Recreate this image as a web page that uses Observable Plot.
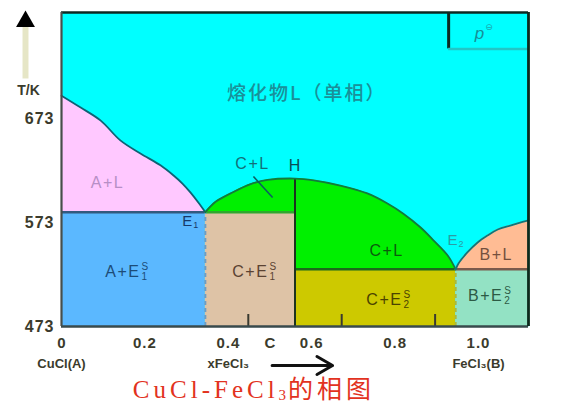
<!DOCTYPE html>
<html>
<head>
<meta charset="utf-8">
<script src="https://cdn.jsdelivr.net/npm/d3@7"></script>
<script src="https://cdn.jsdelivr.net/npm/@observablehq/plot@0.6"></script>
<style>
  body { margin: 0; background: #fff; }
  #chart { position: relative; width: 572px; height: 405px; overflow: hidden; }
  .caption {
    position: absolute; left: 0; top: 376px; width: 508px; text-align: center;
    font-family: "Liberation Serif", "Noto Sans CJK SC", serif; font-size: 25px;
    color: #e2321e; letter-spacing: 4px; line-height: 28px;
  }
  .caption sub { font-size: 15px; vertical-align: -2px; letter-spacing: 2px; }
</style>
</head>
<body>
<div id="chart"></div>
<script>
// T–x phase diagram of the CuCl (A) – FeCl3 (B) system, compound C = CuCl·FeCl3

// composition (mole fraction FeCl3) and temperature (K) of the invariant points
const eutectic1 = { x: 0.308, T: 583 };
const eutectic2 = { x: 0.844, T: 528 };
const compoundX = 0.5;
const pressureBoxCorner = { x: 0.829, T: 740 };

// liquidus curves [x, T]
const liquidusA = [
  [0, 695], [0.041, 683.6], [0.084, 671], [0.126, 652], [0.169, 639.4],
  [0.212, 628], [0.240, 618.2], [0.259, 610.5], [0.276, 602], [0.293, 592.3], [0.308, 583]
];
const liquidusC = [
  [0.308, 583], [0.33, 593], [0.362, 601], [0.405, 610], [0.441, 614],
  [0.5, 615.3], [0.540, 613.6], [0.597, 608.6], [0.655, 601], [0.698, 591.3],
  [0.732, 581.5], [0.769, 568.2], [0.797, 555.7], [0.827, 541.3], [0.844, 528]
];
const liquidusB = [
  [0.844, 528], [0.850, 533.6], [0.869, 544.2], [0.891, 553.8], [0.912, 560.5],
  [0.934, 566.3], [0.961, 570.1], [1.0, 575]
];

// axes
const tMin = 473, tMax = 775;
const xTickValues = [0, 0.2, 0.4, 0.5, 0.6, 0.8, 1.0];
const xTickLabels = ["0", "0.2", "0.4", "C", "0.6", "0.8", "1.0"];
const innerTicks = [0.4, 0.6, 0.8];
const yTickValues = [473, 573, 673];

// phase-field names
const fieldNames = ["A+L", "C+L", "H", "C+L", "B+L"];
const fieldX = [0.0985, 0.409, 0.499, 0.696, 0.931];
const fieldT = [611.5, 629.8, 627.9, 546.1, 542.3];
const fieldColors = ["#b78fc6", "#127078", "#0b4f55", "#0b5c0d", "#74503e"];

const solidNames = ["A+E", "C+E", "C+E", "B+E"];
const solidSub = ["1", "1", "2", "2"];
const solidX = [0.169, 0.443, 0.730, 0.946];
const solidT = [525.9, 525.9, 498.4, 502.8];
const solidColors = ["#1d4c78", "#5a4232", "#4b4300", "#2c5a44"];

const pointNames = ["E", "E"];
const pointSub = ["1", "2"];
const pointX = [0.280, 0.848];
const pointT = [574, 555.7];
const pointColors = ["#17386a", "#2a9ca4"];

// colours of the phase fields
const liquidFill = "#00ffff";
const fill = { AL: "#ffc8ff", CL: "#00f000", BL: "#ffbc94", A: "#5bb8ff", C1: "#dec3a6", C2: "#cdc900", B: "#93e2c4" };

const solids = [
  { x1: 0, x2: eutectic1.x, y1: tMin, y2: eutectic1.T, f: fill.A },
  { x1: eutectic1.x, x2: compoundX, y1: tMin, y2: eutectic1.T, f: fill.C1 },
  { x1: compoundX, x2: eutectic2.x, y1: tMin, y2: eutectic2.T, f: fill.C2 },
  { x1: eutectic2.x, x2: 1, y1: tMin, y2: eutectic2.T, f: fill.B }
];

const plotHeight = 375, marginTop = 12, marginBottom = 49;
const kPerPx = (tMax - tMin) / (plotHeight - marginTop - marginBottom);
const labelX = v => v * 0.893;  // tick labels sit on a slightly compressed row
const domeLeft = liquidusC.filter(d => d[0] <= compoundX);
const domeRight = liquidusC.filter(d => d[0] >= compoundX);
const sans = '"Liberation Sans", "DejaVu Sans", sans-serif';

const chart = Plot.plot({
  width: 572,
  height: plotHeight,
  marginLeft: 61,
  marginRight: 44,
  marginTop,
  marginBottom,
  x: { domain: [0, 1], axis: null },
  y: { domain: [tMin, tMax], axis: null },
  style: { fontFamily: sans, overflow: "visible", background: "transparent" },
  marks: [
    Plot.frame({ fill: liquidFill, stroke: null }),
    // liquid + solid two-phase fields
    Plot.areaY(liquidusA, { x: d => d[0], y1: () => eutectic1.T, y2: d => d[1], fill: fill.AL, curve: "catmull-rom" }),
    Plot.areaY(domeLeft, { x: d => d[0], y1: () => eutectic1.T, y2: d => d[1], fill: fill.CL, curve: "catmull-rom" }),
    Plot.areaY(domeRight, { x: d => d[0], y1: () => eutectic2.T, y2: d => d[1], fill: fill.CL, curve: "catmull-rom" }),
    Plot.areaY(liquidusB, { x: d => d[0], y1: () => eutectic2.T, y2: d => d[1], fill: fill.BL, curve: "catmull-rom" }),
    // all-solid fields
    Plot.rect(solids, { x1: "x1", x2: "x2", y1: "y1", y2: "y2", fill: d => d.f }),
    // eutectic horizontals
    Plot.ruleY([eutectic1.T], { x1: 0, x2: eutectic1.x, stroke: "#33597f", strokeWidth: 2.5 }),
    Plot.ruleY([eutectic1.T], { x1: eutectic1.x, x2: compoundX, stroke: "#2ea82e", strokeWidth: 2.5 }),
    Plot.ruleY([eutectic2.T], { x1: compoundX, x2: eutectic2.x, stroke: "#1b6a1b", strokeWidth: 2.5 }),
    Plot.ruleY([eutectic2.T], { x1: eutectic2.x, x2: 1, stroke: "#7a5a4c", strokeWidth: 2.5 }),
    // boundaries inside the solid region
    Plot.ruleX([eutectic1.x], { y1: tMin, y2: eutectic1.T, stroke: "#6d9cc4", strokeWidth: 2, strokeDasharray: "4,3" }),
    Plot.ruleX([eutectic2.x], { y1: tMin, y2: eutectic2.T, stroke: "#a9b83e", strokeWidth: 2, strokeDasharray: "4,3" }),
    Plot.ruleX([compoundX], { y1: tMin, y2: liquidusC.find(d => d[0] === compoundX)[1], stroke: "#1c3420", strokeWidth: 2 }),
    // liquidus lines
    Plot.line(liquidusA, { x: d => d[0], y: d => d[1], stroke: "#0e6274", strokeWidth: 1.8, curve: "catmull-rom" }),
    Plot.line(liquidusC, { x: d => d[0], y: d => d[1], stroke: "#137a3c", strokeWidth: 1.8, curve: "catmull-rom" }),
    Plot.line(liquidusB, { x: d => d[0], y: d => d[1], stroke: "#10767a", strokeWidth: 1.8, curve: "catmull-rom" }),
    // short ticks along the base
    Plot.ruleX(innerTicks, { y1: tMin, y2: tMin + 12 * kPerPx, stroke: "#3a3a30", strokeWidth: 2 }),
    // leader from the C+L label into the small field
    Plot.link([0], { x1: 0.411, y1: 617.3, x2: 0.452, y2: 597, stroke: "#0b5e60", strokeWidth: 1.6 }),
    // pressure box
    Plot.ruleX([pressureBoxCorner.x], { y1: pressureBoxCorner.T, y2: tMax, stroke: "#0c2a22", strokeWidth: 3 }),
    Plot.ruleY([pressureBoxCorner.T], { x1: pressureBoxCorner.x, x2: 1, stroke: "#22c6c6", strokeWidth: 2.5 }),
    Plot.text(["p"], { x: 0.905, y: 754.8, text: d => d, fontSize: 17, fontStyle: "italic", fill: "#168f98", textAnchor: "end" }),
    Plot.text(["⊖"], { x: 0.905, y: 754.8, text: d => d, fontSize: 9, dy: -6, dx: 1, fill: "#1aa8ae", textAnchor: "start" }),
    // frame
    Plot.ruleY([tMax], { stroke: "#0c2a22", strokeWidth: 2.5 }),
    Plot.ruleY([tMin], { stroke: "#384a4c", strokeWidth: 2.5 }),
    Plot.ruleX([0], { stroke: "#474e4a", strokeWidth: 2.2 }),
    Plot.ruleX([1], { stroke: "#0c2a1c", strokeWidth: 2.8 }),
    // liquid field name
    Plot.text(["熔化物L（单相）"], { x: 0.525, y: 697, text: d => d, fontSize: 19, fontWeight: 500,
      fontFamily: '"Noto Sans CJK SC", sans-serif', fill: "#1a9099" }),
    // two-phase field names
    Plot.text(fieldNames, { x: (d, i) => fieldX[i], y: (d, i) => fieldT[i], text: d => d, fill: (d, i) => fieldColors[i], fontSize: 16 }),
    // solid field names with sub/superscripts
    Plot.text(solidNames, { x: (d, i) => solidX[i], y: (d, i) => solidT[i], text: d => d, fill: (d, i) => solidColors[i], fontSize: 16, textAnchor: "end" }),
    Plot.text(solidSub, { x: (d, i) => solidX[i], y: (d, i) => solidT[i], text: d => d, fill: (d, i) => solidColors[i], fontSize: 10, dy: 5, dx: 1, textAnchor: "start" }),
    Plot.text(solidSub, { x: (d, i) => solidX[i], y: (d, i) => solidT[i], text: () => "S", fill: (d, i) => solidColors[i], fontSize: 10, dy: -5, dx: 1, textAnchor: "start" }),
    // eutectic point names
    Plot.text(pointNames, { x: (d, i) => pointX[i], y: (d, i) => pointT[i], text: d => d, fill: (d, i) => pointColors[i], fontSize: 15, textAnchor: "end" }),
    Plot.text(pointSub, { x: (d, i) => pointX[i], y: (d, i) => pointT[i], text: d => d, fill: (d, i) => pointColors[i], fontSize: 9, dy: 4, dx: 1, textAnchor: "start" }),
    // y axis with its arrow
    Plot.text(yTickValues, { x: 0, y: d => d, text: d => String(d), dx: -7, textAnchor: "end", fontSize: 16, fontWeight: "bold", fill: "#3b3b2c" }),
    Plot.text(["T/K"], { x: 0, y: yTickValues[2], text: d => d, dx: -33, dy: -28, textAnchor: "middle", fontSize: 14, fontWeight: "bold", fill: "#3b3b2c" }),
    Plot.link([0], { x1: 0, x2: 0, y1: tMax - 66 * kPerPx, y2: tMax - 14 * kPerPx, dx: -36, stroke: "#e6e6c6", strokeWidth: 6 }),
    Plot.dot([0], { x: 0, y: tMax, dx: -36, dy: 9, symbol: "triangle", r: 7, fill: "#000", stroke: null }),
    // x axis
    Plot.text(xTickValues, { x: d => labelX(d), y: tMin, text: (d, i) => xTickLabels[i], dy: 17, fontSize: 15, fontWeight: "bold", fill: "#3b3b2c" }),
    Plot.text(["CuCl(A)"], { x: labelX(0), y: tMin, text: d => d, dy: 37, fontSize: 13, fontWeight: "bold", fill: "#3b3b2c" }),
    Plot.text(["xFeCl₃"], { x: labelX(0.4), y: tMin, text: d => d, dy: 37, fontSize: 13, fontWeight: "bold", fill: "#3b3b2c" }),
    Plot.text(["FeCl₃(B)"], { x: labelX(1), y: tMin, text: d => d, dy: 37, fontSize: 13, fontWeight: "bold", fill: "#3b3b2c" }),
    Plot.arrow([0], { x1: labelX(0.505), x2: labelX(0.65), y1: tMin, y2: tMin, dy: 39, stroke: "#111", strokeWidth: 3, headLength: 9 })
  ]
});

// letter spacing for the wide-set labels
d3.select(chart).selectAll("text").each(function () {
  const t = this.textContent;
  if (/^[ABC]\+[LE]$/.test(t)) this.setAttribute("letter-spacing", "1.5");
  if (/^\d\.\d$|^\d{3}$/.test(t)) this.setAttribute("letter-spacing", "1");
  if (t.startsWith("熔")) this.setAttribute("letter-spacing", "2");
});

const host = document.getElementById("chart");
host.appendChild(chart);
const cap = document.createElement("div");
cap.className = "caption";
cap.innerHTML = "CuCl-FeCl<sub>3</sub>的相图";
host.appendChild(cap);
</script>
</body>
</html>
